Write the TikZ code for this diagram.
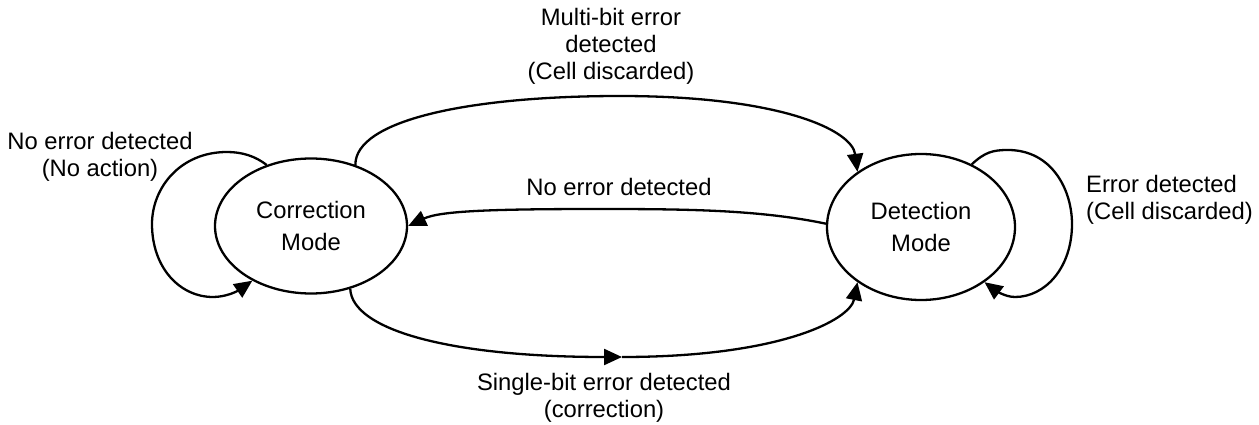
\documentclass[tikz,border=0pt]{standalone}
\usepackage{fontspec}
\setmainfont{Liberation Sans}
\usetikzlibrary{arrows.meta,shapes.geometric}
\begin{document}
\begin{tikzpicture}[x=1pt,y=-1pt,
  line width=2.3pt,
  state/.style={draw, ellipse, inner sep=0pt, align=center,
    font=\fontsize{23.8}{32}\selectfont},
  lbl/.style={align=center, inner sep=0pt,
    font=\fontsize{23.8}{27}\selectfont},
  tip/.style={-{Triangle[length=18pt,width=16pt]}},
]
\useasboundingbox (0,0) rectangle (1259,425);

\node[state, minimum width=192pt, minimum height=135pt] (L) at (311,226) {Correction\\Mode};
\node[state, minimum width=188pt, minimum height=146pt] (R) at (921,227) {Detection\\Mode};

% top arc
\draw[tip] (L.54) .. controls (355,120) and (470,96) .. (620,96)
  .. controls (780,96) and (852,130) .. (R.139);
% middle arc
\draw[tip] (R.178) .. controls (760,210) and (690,209) .. (600,209)
  .. controls (490,209) and (440,211) .. (L.0);
% bottom arc with mid arrow
\coordinate (mb) at (622,357);
\draw[tip] (L.-58) .. controls (352,330) and (450,357) .. (mb);
\draw[tip] (mb) .. controls (780,357) and (850,320) .. (R.-139);
% left self loop
\draw[tip] (L.126) .. controls (255,156) and (242,152) .. (227,152)
  .. controls (180,152) and (152,188) .. (152,224)
  .. controls (152,268) and (180,297) .. (213,297)
  .. controls (225,297) and (236,292) .. (L.-137);
% right self loop
\draw[tip] (R.51) .. controls (985,152) and (993,150) .. (1008,150)
  .. controls (1052,150) and (1072,190) .. (1072,224)
  .. controls (1072,268) and (1045,297) .. (1015,297)
  .. controls (1005,297) and (995,290) .. (R.-41);

\node[lbl] (lblTop) at (611,46) {Multi-bit error\\detected\\(Cell discarded)};
\node[lbl] (lblMid) at (619,187) {No error detected};
\node[lbl] (lblBot) at (604,398) {Single-bit error detected\\(correction)};
\node[lbl] (lblLeft) at (100,157) {No error detected\\(No action)};
\node[lbl, align=left, anchor=west] (lblRight) at (1085,200) {Error detected\\(Cell discarded)};
\end{tikzpicture}
\end{document}
